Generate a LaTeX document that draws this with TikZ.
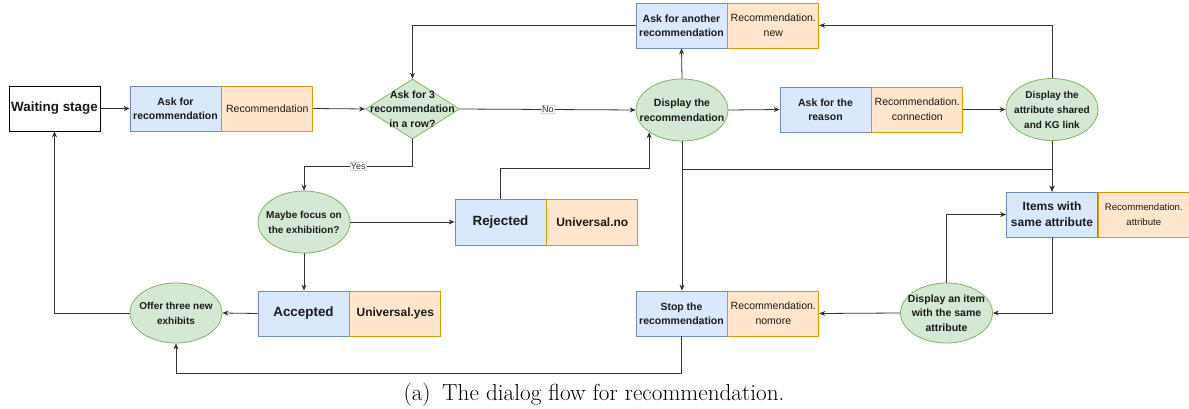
\documentclass[tikz,border=0pt]{standalone}
\usepackage{fontspec}
\newfontfamily\diagfont{Liberation Sans}
\usetikzlibrary{shapes.geometric,arrows.meta}
\definecolor{bluefill}{HTML}{DAE8FC}
\definecolor{blueline}{HTML}{6C8EBF}
\definecolor{orangefill}{HTML}{FFE6CC}
\definecolor{orangeline}{HTML}{D79B00}
\definecolor{greenfill}{HTML}{D5E8D4}
\definecolor{greenline}{HTML}{82B366}
\definecolor{txtcol}{HTML}{1A1A1A}
\definecolor{edgecol}{HTML}{333333}
\tikzset{
  boxbase/.style={minimum width=91pt, minimum height=45pt, inner sep=0pt,
    align=center, text=txtcol, line width=0.8pt},
  bluebox/.style={boxbase, draw=blueline, fill=bluefill},
  orangebox/.style={boxbase, draw=orangeline, fill=orangefill, anchor=west},
  plainbox/.style={boxbase, draw=black, fill=white},
  greenell/.style={ellipse, draw=greenline, fill=greenfill, line width=0.8pt,
    minimum width=92pt, minimum height=62pt, inner sep=0pt},
  decision/.style={diamond, draw=greenline, fill=greenfill, line width=0.8pt,
    minimum width=94pt, minimum height=60pt, inner sep=0pt},
  etext/.style={align=center, text=txtcol, inner sep=0pt},
  bsmall/.style={font={\diagfont\bfseries\fontsize{10.5}{14.5}\selectfont}},
  bten/.style={font={\diagfont\bfseries\fontsize{10}{15}\selectfont}},
  bmid/.style={font={\diagfont\bfseries\fontsize{12}{16}\selectfont}},
  bbig/.style={font={\diagfont\bfseries\fontsize{13.4}{16}\selectfont}},
  rsmall/.style={font={\diagfont\fontsize{10.5}{15}\selectfont}},
  rtiny/.style={font={\diagfont\fontsize{9.6}{15}\selectfont}},
  arr/.style={draw=edgecol, line width=0.8pt, -{Stealth[length=6pt,width=5pt]}},
  elabel/.style={font={\diagfont\fontsize{9}{10}\selectfont}, text=edgecol,
    fill=white, draw=gray!35, line width=0.4pt, inner sep=1pt}
}
\begin{document}
\begin{tikzpicture}[x=1pt,y=-1pt]
\useasboundingbox[fill=white] (0,0) rectangle (1189,409);

% start
\node[plainbox, bbig] (waiting) at (54.5,108.5) {Waiting stage};

% first request
\node[bluebox, bsmall] (askrec) at (175.5,108.5) {Ask for\\recommendation};
\node[orangebox, rsmall] (askrecO) at (askrec.east) {Recommendation};

% decision
\node[decision] (dec) at (412.5,109) {};
\node[etext, bsmall] (decT) at (dec) {Ask for 3\\recommendation\\in a row?};

% central display
\node[greenell] (disprec) at (682,110) {};
\node[etext, bsmall] (disprecT) at (disprec) {Display the\\recommendation};

% ask for another
\node[bluebox, bsmall] (another) at (681.5,25.5) {Ask for another\\recommendation};
\node[orangebox, rsmall] (anotherO) at (another.east) {Recommendation.\\new};

% ask for the reason
\node[bluebox, bsmall] (reason) at (825.5,109.5) {Ask for the\\reason};
\node[orangebox, rsmall] (reasonO) at (reason.east) {Recommendation.\\connection};

% shared attribute
\node[greenell] (dispattr) at (1052,109.5) {};
\node[etext, bten] (dispattrT) at (dispattr) {Display the\\attribute shared\\and KG link};

% items with same attribute
\node[bluebox, bmid] (items) at (1052,214.5) {Items with\\same attribute};
\node[orangebox, rtiny] (itemsO) at (items.east) {Recommendation.\\attribute};

% display an item
\node[greenell, minimum height=60pt] (dispitem) at (946.5,313) {};
\node[etext, bsmall] (dispitemT) at (dispitem) {Display an item\\with the same\\attribute};

% stop
\node[bluebox, bsmall] (stop) at (681.5,313.5) {Stop the\\recommendation};
\node[orangebox, rsmall] (stopO) at (stop.east) {Recommendation.\\nomore};

% focus question
\node[greenell] (maybe) at (304,222) {};
\node[etext, bten] (maybeT) at (maybe) {Maybe focus on\\the exhibition?};

% rejected / accepted
\node[bluebox, bbig, minimum height=46pt] (rejected) at (500.5,222) {Rejected};
\node[orangebox, bmid, minimum height=46pt] (rejectedO) at (rejected.east) {Universal.no};
\node[bluebox, bbig] (accepted) at (303.5,313.5) {Accepted};
\node[orangebox, bmid] (acceptedO) at (accepted.east) {Universal.yes};

% offer
\node[greenell, minimum height=60pt] (offer) at (176,313) {};
\node[etext, bten] (offerT) at (offer) {Offer three new\\exhibits};

% caption
\node[anchor=base, font=\fontsize{23.2}{27}\selectfont] (caption) at (594,400)
  {(a)\hspace{0.5em}The dialog flow for recommendation.};

% connectors
\draw[arr] (waiting.east) -- (askrec.west);
\draw[arr] (askrecO.east) -- (dec.west);
\draw[arr] (dec.east) -- node[elabel] (nolbl) {No} (disprec.west);
\draw[arr] (dec.south) -- ++(0,27) -| node[elabel, pos=0.25] (yeslbl) {Yes} (maybe.north);
\draw[arr] (disprec.north) -- (another.south);
\draw[arr] (another.west) -| (dec.north);
\draw[arr] (disprec.east) -- (reason.west);
\draw[arr] (reasonO.east) -- (dispattr.west);
\draw[arr] (dispattr.north) |- (anotherO.east);
\draw[arr] (disprec.south) -- (disprec.south |- stop.north);
\draw[arr] (disprec.south) -- ++(0,28) -| (items.north);
\draw[arr] (dispattr.south) -- (items.north);
\draw[arr] (rejected.north) -- ++(0,-30) -| (disprec.south west);
\draw[arr] (maybe.east) -- (rejected.west);
\draw[arr] (maybe.south) -- (maybe.south |- accepted.north);
\draw[arr] (accepted.west) -- (offer.east);
\draw[arr] (offer.west) -| (waiting.south);
\draw[arr] (stop.south) -- ++(0,37) -| (offer.south);
\draw[arr] (items.south) |- (dispitem.east);
\draw[arr] (dispitem.north) |- (items.west);
\draw[arr] (dispitem.west) -- (stopO.east);
\end{tikzpicture}
\end{document}
